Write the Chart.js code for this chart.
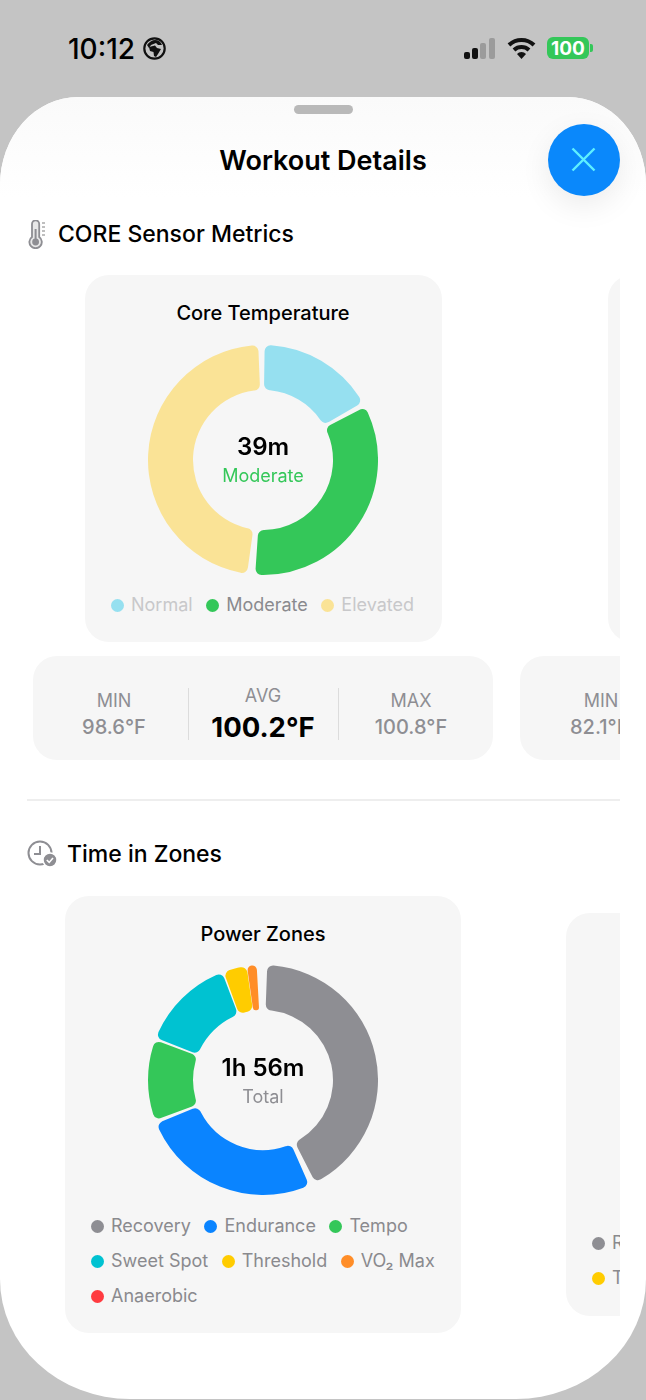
<!DOCTYPE html>
<html>
<head>
<meta charset="utf-8">
<script src="https://cdn.jsdelivr.net/npm/chart.js@4"></script>
<style>
  html, body { margin: 0; padding: 0; background: #c4c4c4; }
  body { width: 646px; height: 1400px; position: relative; overflow: hidden; font-family: Inter, "Noto Sans", sans-serif; color: #000; }
  .abs { position: absolute; white-space: nowrap; line-height: 1; }
  .mid { transform: translate(-50%, -50%); }
  .left { transform: translateY(-50%); }
  #sheet { position: absolute; left: 0; top: 97px; width: 646px; height: 1302px; background: #fff; border-radius: 78px 78px 130px 130px / 88px 88px 120px 120px; }
  #fade { position: absolute; left: 0; top: 97px; width: 646px; height: 100px; border-radius: 78px 78px 0 0 / 88px 88px 0 0; background: linear-gradient(#fafafa, #fff); }
  #grab { position: absolute; left: 294px; top: 105px; width: 59px; height: 9px; border-radius: 5px; background: #b9b9b9; }
  #close { position: absolute; left: 548px; top: 124px; width: 72px; height: 72px; border-radius: 50%; background: #0a88fb; box-shadow: 0 10px 30px rgba(0,0,0,.08); }
  #clip { position: absolute; left: 0; top: 0; width: 620px; height: 1400px; overflow: hidden; }
  .card { position: absolute; background: #f6f6f6; border-radius: 24px; }
  .legend { position: absolute; display: flex; flex-wrap: wrap; column-gap: 13.5px; row-gap: 13px; font-size: 18px; line-height: 22px; }
  .legend .item { display: flex; align-items: center; white-space: nowrap; }
  .legend .dot { width: 13px; height: 13px; border-radius: 50%; margin-right: 7px; }
  canvas { position: absolute; }
</style>
</head>
<body>
<div id="sheet"></div>
<div id="fade"></div>
<div id="grab"></div>

<div class="abs left" style="left:68px;top:49px;font-size:28px;font-weight:500">10:12</div>
<svg class="abs" style="left:143px;top:37px" width="23" height="23" viewBox="0 0 23 23">
  <circle cx="11.5" cy="11.5" r="10.2" fill="#c4c4c4" stroke="#111" stroke-width="2.2"/>
  <path d="M4 8 Q8 3 12 3 Q17 3 19 8 L15 8 L13 6 L8 8 L6 11 Z" fill="#111"/>
  <path d="M6 10 L12 8.5 L14 11 L18 12 L15 17 L13 20 L11 19 L10.5 15 L7 14 Z" fill="#111"/>
</svg>
<svg class="abs" style="left:463px;top:37px" width="34" height="23" viewBox="0 0 34 23">
  <rect x="1" y="15" width="6" height="7" rx="2" fill="#111"/>
  <rect x="9" y="11" width="6" height="11" rx="2" fill="#111"/>
  <rect x="17" y="6" width="6" height="16" rx="2" fill="#9b9b9b"/>
  <rect x="26" y="1" width="6" height="21" rx="2" fill="#9b9b9b"/>
</svg>
<svg class="abs" style="left:507px;top:36px" width="29" height="24" viewBox="0 0 29 24">
  <path d="M2 9 A18 18 0 0 1 27 9" fill="none" stroke="#111" stroke-width="4"/>
  <path d="M7 14 A11 11 0 0 1 22 14" fill="none" stroke="#111" stroke-width="4"/>
  <path d="M10 18 A6 6 0 0 1 19 18 L14.5 23 Z" fill="#111"/>
</svg>
<div class="abs" style="left:547px;top:37px;width:42px;height:22px;border-radius:6px;background:#34c759"></div>
<div class="abs" style="left:590px;top:44px;width:3px;height:8px;border-radius:0 2px 2px 0;background:#34c759"></div>
<div class="abs mid" style="left:568px;top:48px;font-size:19px;font-weight:700;color:#fff">100</div>

<div class="abs mid" style="left:323px;top:160px;font-size:27px;font-weight:600">Workout Details</div>
<div id="close"></div>
<svg class="abs" style="left:571px;top:147px" width="25" height="25" viewBox="0 0 25 25">
  <path d="M1.5 1.5 L23.5 23.5 M23.5 1.5 L1.5 23.5" stroke="#5ff0ff" stroke-width="2.4" fill="none"/>
</svg>

<div id="clip">
  <svg class="abs" style="left:26px;top:220px" width="22" height="29" viewBox="0 0 22 29">
    <path d="M6 4 a3.6 3.6 0 0 1 7.2 0 V17 a6.2 6.2 0 1 1 -7.2 0 Z" fill="#e8e8e8" stroke="#8e8e93" stroke-width="1.8"/>
    <circle cx="9.6" cy="22" r="3.4" fill="#8e8e93"/>
    <rect x="8.6" y="9" width="2" height="12" fill="#8e8e93"/>
    <path d="M16 3 h3 M16 7 h3 M16 11 h3 M16 15 h3" stroke="#aaa" stroke-width="1.4"/>
  </svg>
  <div class="abs left" style="left:58px;top:234px;font-size:23px;font-weight:500">CORE Sensor Metrics</div>

  <div class="card" style="left:85px;top:275px;width:357px;height:367px"></div>
  <div class="card" style="left:608px;top:275px;width:100px;height:367px"></div>
  <div class="abs mid" style="left:263px;top:313px;font-size:20px;font-weight:500">Core Temperature</div>
  <canvas id="coreChart" style="left:148px;top:345px"></canvas>
  <div class="abs mid" style="left:263px;top:447px;font-size:24px;font-weight:600">39m</div>
  <div class="abs mid" style="left:263px;top:476px;font-size:18px;color:#34c759">Moderate</div>
  <div class="legend" id="coreLegend" style="left:111px;top:594px;width:320px"></div>

  <div class="card" style="left:33px;top:656px;width:460px;height:104px"></div>
  <div class="card" style="left:520px;top:656px;width:300px;height:104px"></div>
  <div class="abs" style="left:188px;top:688px;width:1px;height:52px;background:#dcdcdc"></div>
  <div class="abs" style="left:338px;top:688px;width:1px;height:52px;background:#dcdcdc"></div>
  <div class="abs mid" style="left:114px;top:701px;font-size:18px;color:#8e8e93">MIN</div>
  <div class="abs mid" style="left:114px;top:727px;font-size:20px;font-weight:500;color:#8e8e93">98.6°F</div>
  <div class="abs mid" style="left:263px;top:696px;font-size:18px;color:#8e8e93">AVG</div>
  <div class="abs mid" style="left:263px;top:728px;font-size:27.5px;font-weight:700">100.2°F</div>
  <div class="abs mid" style="left:411px;top:701px;font-size:18px;color:#8e8e93">MAX</div>
  <div class="abs mid" style="left:411px;top:727px;font-size:20px;font-weight:500;color:#8e8e93">100.8°F</div>
  <div class="abs mid" style="left:601px;top:701px;font-size:18px;color:#8e8e93">MIN</div>
  <div class="abs left" style="left:570px;top:727px;font-size:20px;font-weight:500;color:#8e8e93">82.1°F</div>

  <div class="abs" style="left:27px;top:799px;width:593px;height:2px;background:#eeeeee"></div>

  <svg class="abs" style="left:27px;top:840px" width="30" height="28" viewBox="0 0 30 28">
    <circle cx="13" cy="13" r="11.5" fill="none" stroke="#8e8e93" stroke-width="2"/>
    <path d="M13 6 V14 H7" fill="none" stroke="#8e8e93" stroke-width="2"/>
    <circle cx="23" cy="20" r="7" fill="#8e8e93" stroke="#fff" stroke-width="1.5"/>
    <path d="M19.8 20 L22.2 22.4 L26 18" fill="none" stroke="#fff" stroke-width="1.6"/>
  </svg>
  <div class="abs left" style="left:67px;top:854px;font-size:23px;font-weight:500">Time in Zones</div>

  <div class="card" style="left:65px;top:896px;width:396px;height:437px"></div>
  <div class="card" style="left:566px;top:913px;width:300px;height:403px"></div>
  <div class="abs mid" style="left:263px;top:934px;font-size:20px;font-weight:500">Power Zones</div>
  <canvas id="powerChart" style="left:148px;top:965px"></canvas>
  <div class="abs mid" style="left:263px;top:1068px;font-size:24px;font-weight:600">1h 56m</div>
  <div class="abs mid" style="left:263px;top:1097px;font-size:18px;color:#8e8e93">Total</div>
  <div class="legend" id="powerLegend" style="left:91px;top:1215px;width:365px"></div>
  <div class="legend" id="peekLegend" style="left:592px;top:1232px;width:120px"></div>
</div>

<script>
// core temperature, minutes per band
var coreLabels = ["Normal", "Moderate", "Elevated"];
var coreMinutes = [19, 39, 54.5];
var coreColors = ["#96e0f0", "#34c759", "#fae396"];
var coreTextColors = ["#c8c8ca", "#8a8a8e", "#c8c8ca"];

// power zones, minutes per zone
var zoneLabels = ["Recovery", "Endurance", "Tempo", "Sweet Spot", "Threshold", "VO₂ Max", "Anaerobic"];
var zoneMinutes = [50, 30.3, 13.5, 15.8, 3.9, 1.6, 1];
var zoneColors = ["#8e8e93", "#0a84ff", "#34c759", "#00c2d1", "#ffcc00", "#ff8d28", "#ff3b40"];
// the anaerobic slice leaves only a gap in the ring, its colour shows in the legend
var zoneSliceColors = ["#8e8e93", "#0a84ff", "#34c759", "#00c2d1", "#ffcc00", "#ff8d28", "transparent"];

// card cut off by the right edge
var peekLabels = ["Recovery", "Threshold"];
var peekColors = ["#8e8e93", "#ffcc00"];

function donut(id, labels, values, colors) {
  var canvas = document.getElementById(id);
  canvas.width = 230;
  canvas.height = 230;
  return new Chart(canvas.getContext("2d"), {
    type: "doughnut",
    data: {
      labels: labels,
      datasets: [{
        data: values,
        backgroundColor: colors,
        borderWidth: 0,
        borderRadius: 6,
        spacing: 5,
      }],
    },
    options: {
      responsive: false,
      animation: false,
      cutout: "60%",
      plugins: { legend: { display: false }, tooltip: { enabled: false } },
    },
  });
}

function legend(id, labels, colors, textColors) {
  var box = document.getElementById(id);
  labels.forEach(function (label, i) {
    var item = document.createElement("div");
    item.className = "item";
    var dot = document.createElement("span");
    dot.className = "dot";
    dot.style.background = colors[i];
    var text = document.createElement("span");
    text.textContent = label;
    text.style.color = textColors ? textColors[i] : "#8a8a8e";
    item.appendChild(dot);
    item.appendChild(text);
    box.appendChild(item);
  });
}

donut("coreChart", coreLabels, coreMinutes, coreColors);
donut("powerChart", zoneLabels, zoneMinutes, zoneSliceColors);
legend("coreLegend", coreLabels, coreColors, coreTextColors);
legend("powerLegend", zoneLabels, zoneColors);
legend("peekLegend", peekLabels, peekColors);
</script>
</body>
</html>
